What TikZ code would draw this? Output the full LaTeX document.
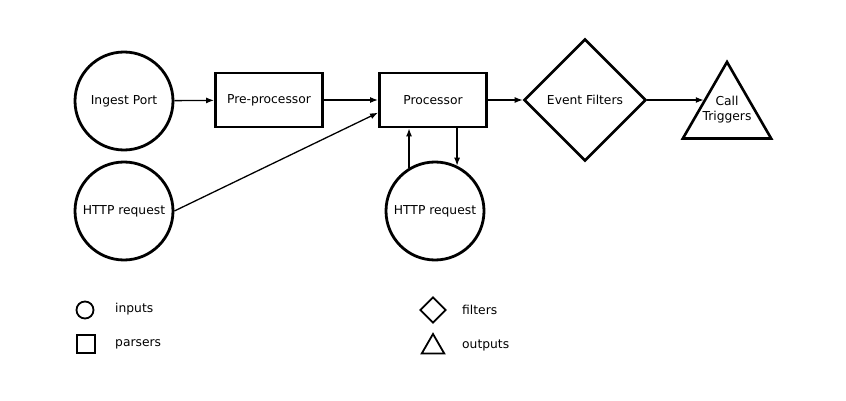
\documentclass[tikz,border=0pt]{standalone}
\usepackage{fontspec}
\setmainfont{DejaVu Sans}
\usetikzlibrary{shapes.geometric,arrows.meta,calc}
\begin{document}
\begin{tikzpicture}[x=1pt,y=-1pt,
  every node/.style={font=\fontsize{12.3}{15}\selectfont, inner sep=0pt},
  inp/.style={circle, draw, line width=2.8pt, minimum size=98pt},
  parser/.style={rectangle, draw, line width=2.8pt, minimum width=107pt, minimum height=54pt},
  filt/.style={diamond, draw, line width=2.6pt, minimum width=122pt, minimum height=122pt, aspect=1},
  outp/.style={regular polygon, regular polygon sides=3, draw, line width=2.6pt, minimum size=102pt},
  conn/.style={line width=1.3pt, -{Latex[length=8pt,width=6pt]}},
  lgd/.style={draw, line width=1.8pt},
  lbl/.style={anchor=west}]
\useasboundingbox (0,0) rectangle (846,401);
\node[inp] (ingest) at (124,101) {Ingest Port};
\node[inp] (http1) at (124,211) {HTTP request};
\node[parser] (pre) at (269,100) {Pre-processor};
\node[parser] (proc) at (433,100) {Processor};
\node[inp] (http2) at (435,211) {HTTP request};
\node[filt] (filt) at (585,100) {Event Filters};
\node[outp] (trig) at (727,113) {};
\node[align=center] (trigtext) at (727,110) {Call\\Triggers};
\coordinate (tin) at ($(trig.corner 1)!0.5!(trig.corner 2)$);
\draw[conn] (ingest) -- (pre);
\draw[conn] (pre) -- (proc);
\draw[conn] (http1.east) -- (proc.193);
\draw[conn] (http2.121) -- (http2.121 |- proc.south);
\draw[conn] (http2.64 |- proc.south) -- (http2.64);
\draw[conn] (proc.east) -- (filt.west);
\draw[conn] (filt.east) -- (filt.east -| tin);
% legend
\node[lgd, circle, minimum size=17pt] (lc) at (85,310) {};
\node[lbl] (lct) at (115,309) {inputs};
\node[lgd, rectangle, minimum size=18pt] (ls) at (86,344) {};
\node[lbl] (lst) at (115,344) {parsers};
\node[lgd, diamond, minimum size=26pt, aspect=1] (ld) at (433,310) {};
\node[lbl] (ldt) at (462,310) {filters};
\node[lgd, regular polygon, regular polygon sides=3, minimum size=26pt] (lt) at (433,347) {};
\node[lbl] (ltt) at (462,345) {outputs};
\end{tikzpicture}
\end{document}
